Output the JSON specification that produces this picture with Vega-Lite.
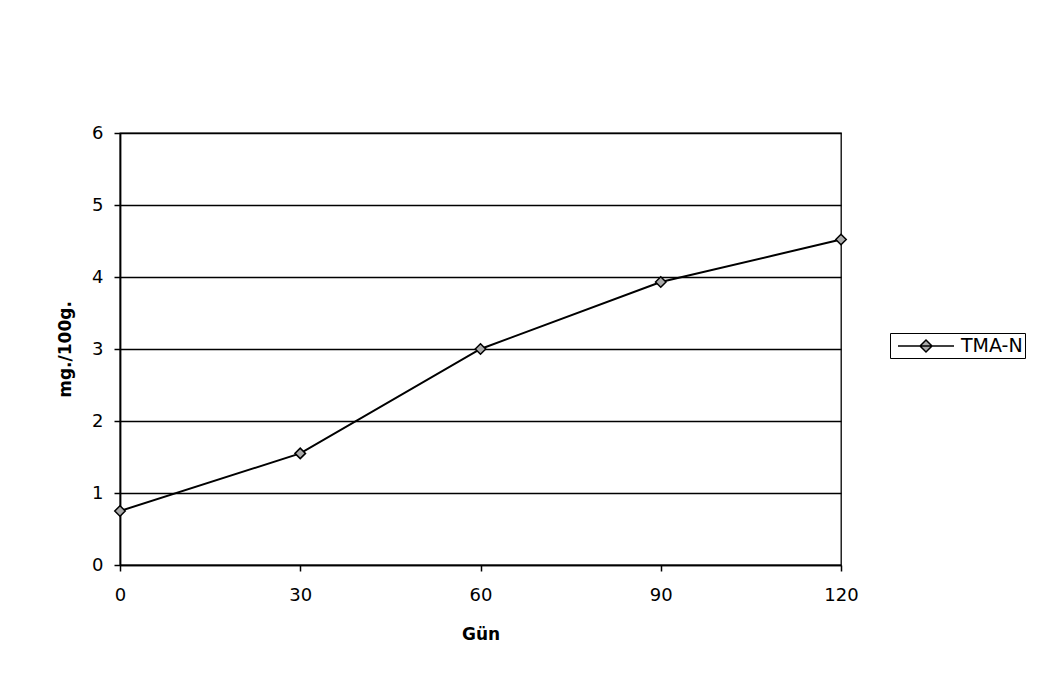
{
  "$schema": "https://vega.github.io/schema/vega-lite/v6.json",
  "autosize": "none",
  "width": 721,
  "height": 432,
  "padding": {"left": 120, "top": 133, "right": 202, "bottom": 124},
  "background": "white",
  "data": {"values": [
    {"gun": 0, "value": 0.75, "series": "TMA-N"},
    {"gun": 30, "value": 1.55, "series": "TMA-N"},
    {"gun": 60, "value": 3.0, "series": "TMA-N"},
    {"gun": 90, "value": 3.93, "series": "TMA-N"},
    {"gun": 120, "value": 4.52, "series": "TMA-N"}
  ]},
  "mark": {"type": "line", "strokeWidth": 2, "point": {"shape": "diamond", "filled": true, "fill": "#aaaaaa", "stroke": "black", "strokeWidth": 1.5, "size": 110}},
  "encoding": {
    "x": {"field": "gun", "type": "quantitative", "title": "Gün",
      "scale": {"domain": [0, 120], "nice": false, "zero": false},
      "axis": {"values": [0, 30, 60, 90, 120], "grid": false, "domain": true, "domainColor": "black", "domainWidth": 1.5, "tickColor": "black", "tickSize": 6, "tickWidth": 1.5, "labelFlush": false, "labelFontSize": 18, "labelPadding": 15, "titleFontSize": 17, "titleFontWeight": "bold", "titlePadding": 22}},
    "y": {"field": "value", "type": "quantitative", "title": "mg./100g.",
      "scale": {"domain": [0, 6], "nice": false},
      "axis": {"values": [0, 1, 2, 3, 4, 5, 6], "grid": true, "gridColor": "black", "gridWidth": 1.3, "gridOpacity": 1, "domainColor": "black", "domainWidth": 1.8, "tickColor": "black", "tickSize": 6, "tickWidth": 1.5, "labelFlush": false, "labelFontSize": 18, "labelPadding": 11, "titleFontSize": 17, "titleFontWeight": "bold", "titlePadding": 17}},
    "stroke": {"field": "series", "type": "nominal", "title": null,
      "scale": {"range": ["black"]},
      "legend": {"orient": "none", "legendX": 770, "legendY": 200, "strokeColor": "black", "padding": 2, "labelFontSize": 19, "symbolType": "M-2.8,0H2.8M-0.6,0L0,-0.6L0.6,0L0,0.6Z", "symbolSize": 400, "symbolStrokeWidth": 1.5, "symbolFillColor": "#aaaaaa", "symbolOffset": 23, "labelOffset": 24, "labelExpr": "datum.label + ' '"}}
  },
  "config": {
    "font": "DejaVu Sans",
    "view": {"stroke": "black", "strokeWidth": 1.3},
    "axis": {"labelColor": "black", "titleColor": "black", "labelFont": "DejaVu Sans", "titleFont": "DejaVu Sans"},
    "legend": {"labelColor": "black", "labelFont": "DejaVu Sans"}
  }
}
